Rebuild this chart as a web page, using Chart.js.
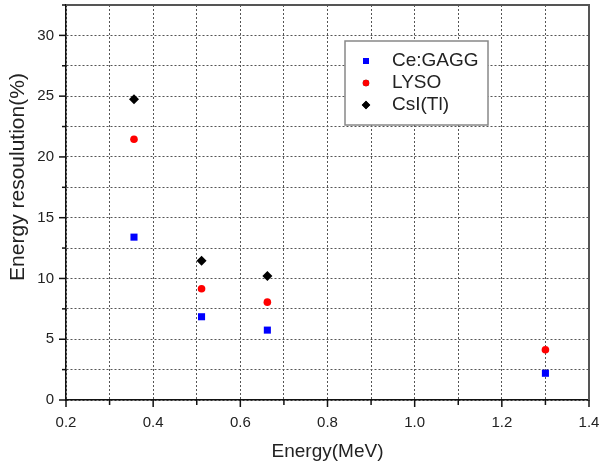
<!DOCTYPE html>
<html>
<head>
<meta charset="utf-8">
<script src="https://cdn.jsdelivr.net/npm/chart.js@4.4.0/dist/chart.umd.min.js"></script>
<style>
  html, body { margin: 0; padding: 0; background: #fff; }
  #wrap { width: 601px; height: 468px; position: relative; }
</style>
</head>
<body>
<div id="wrap"><canvas id="chart"></canvas></div>
<script>
// energies (MeV) and resolution (%)
const energiesGagg = [0.356, 0.511, 0.662, 1.3];
const gaggValues = [13.4, 6.85, 5.75, 2.2];
const energiesLyso = [0.356, 0.511, 0.662, 1.3];
const lysoValues = [21.45, 9.15, 8.05, 4.13];
const energiesCsi = [0.356, 0.511, 0.662];
const csiValues = [24.75, 11.45, 10.2];
const seriesNames = ['Ce:GAGG', 'LYSO', 'CsI(Tl)'];
const xTickLabels = ['0.2', '0.4', '0.6', '0.8', '1.0', '1.2', '1.4'];
const yTickLabels = ['0', '5', '10', '15', '20', '25', '30'];

const pairs = (xs, ys) => xs.map((x, i) => ({ x, y: ys[i] }));
const FONT = 'Arial, "Liberation Sans", sans-serif';

// tick marks: long at labelled values, short in between
const tickMarks = {
  id: 'tickMarks',
  afterDraw(chart) {
    const ctx = chart.ctx;
    const { x, y } = chart.scales;
    ctx.save();
    ctx.strokeStyle = '#111';
    ctx.lineWidth = 1.5;
    x.ticks.forEach(t => {
      const px = x.getPixelForValue(t.value);
      const len = xTickLabels.includes(t.value.toFixed(1)) ? 7 : 5;
      ctx.beginPath();
      ctx.moveTo(px, y.bottom);
      ctx.lineTo(px, y.bottom + len);
      ctx.stroke();
    });
    y.ticks.forEach(t => {
      const py = y.getPixelForValue(t.value);
      const len = yTickLabels.includes(String(t.value)) ? 7 : 4;
      ctx.beginPath();
      ctx.moveTo(x.left, py);
      ctx.lineTo(x.left - len, py);
      ctx.stroke();
    });
    // top and right frame
    ctx.strokeStyle = '#555';
    ctx.lineWidth = 2;
    ctx.beginPath();
    ctx.moveTo(x.left, y.top);
    ctx.lineTo(x.right, y.top);
    ctx.lineTo(x.right, y.bottom);
    ctx.stroke();
    // y axis title
    ctx.fillStyle = '#222';
    ctx.font = '21px ' + FONT;
    ctx.translate(18, 177);
    ctx.rotate(-Math.PI / 2);
    ctx.textAlign = 'center';
    ctx.textBaseline = 'middle';
    ctx.fillText('Energy resoulution(%)', 0, 0);
    ctx.restore();
  }
};

const boxLegend = {
  id: 'boxLegend',
  afterDraw(chart) {
    const ctx = chart.ctx;
    ctx.save();
    ctx.fillStyle = '#fff';
    ctx.fillRect(345, 41, 143, 84);
    ctx.strokeStyle = '#888';
    ctx.lineWidth = 1.5;
    ctx.strokeRect(345, 41, 143, 84);
    ctx.font = '19px ' + FONT;
    ctx.textBaseline = 'middle';
    chart.data.datasets.forEach((ds, i) => {
      const cy = 61 + i * 22;
      Chart.helpers.drawPoint(ctx, {
        pointStyle: ds.pointStyle,
        radius: ds.pointRadius * 0.85,
        borderWidth: 0
      }, 366, cy);
      ctx.fillStyle = ds.backgroundColor;
      ctx.fill();
      ctx.fillStyle = '#222';
      ctx.fillText(ds.label, 392, cy);
    });
    ctx.restore();
  }
};

new Chart(document.getElementById('chart'), {
  type: 'scatter',
  data: {
    datasets: [
      { label: seriesNames[0], data: pairs(energiesGagg, gaggValues), pointStyle: 'rect',
        pointRadius: 5, backgroundColor: '#0000ff', borderColor: '#0000ff', borderWidth: 0 },
      { label: seriesNames[1], data: pairs(energiesLyso, lysoValues), pointStyle: 'circle',
        pointRadius: 3.8, backgroundColor: '#ff0000', borderColor: '#ff0000', borderWidth: 0 },
      { label: seriesNames[2], data: pairs(energiesCsi, csiValues), pointStyle: 'rectRot',
        pointRadius: 5, backgroundColor: '#000000', borderColor: '#000000', borderWidth: 0 },
    ]
  },
  options: {
    responsive: true,
    maintainAspectRatio: false,
    animation: false,
    layout: { padding: { left: 0, right: 12, top: 5, bottom: 0 } },
    plugins: { legend: { display: false }, tooltip: { enabled: false } },
    scales: {
      x: {
        type: 'linear',
        min: 0.2, max: 1.4,
        afterFit: s => { s.height = 68; s.paddingLeft = 0; s.paddingRight = 0; },
        grid: { color: '#555', lineWidth: 1, drawTicks: false },
        border: { color: '#111', width: 1.5, dash: [2, 2] },
        ticks: {
          stepSize: 0.1, padding: 14, maxRotation: 0, autoSkip: false,
          color: '#222', font: { family: FONT, size: 15 },
          callback: v => xTickLabels.includes(v.toFixed(1)) ? v.toFixed(1) : ''
        },
        title: {
          display: true, text: 'Energy(MeV)', color: '#222',
          font: { family: FONT, size: 19 }, padding: { top: 0, bottom: 5 }
        }
      },
      y: {
        min: 0, max: 32.5,
        afterFit: s => { s.width = 66; s.paddingTop = 0; s.paddingBottom = 0; },
        grid: { color: '#555', lineWidth: 1, drawTicks: false },
        border: { color: '#111', width: 1.5, dash: [2, 2] },
        ticks: {
          stepSize: 2.5, padding: 12, autoSkip: false,
          color: '#222', font: { family: FONT, size: 15 },
          callback: v => yTickLabels.includes(String(v)) ? String(v) : ''
        }
      }
    }
  },
  plugins: [tickMarks, boxLegend]
});
</script>
</body>
</html>
